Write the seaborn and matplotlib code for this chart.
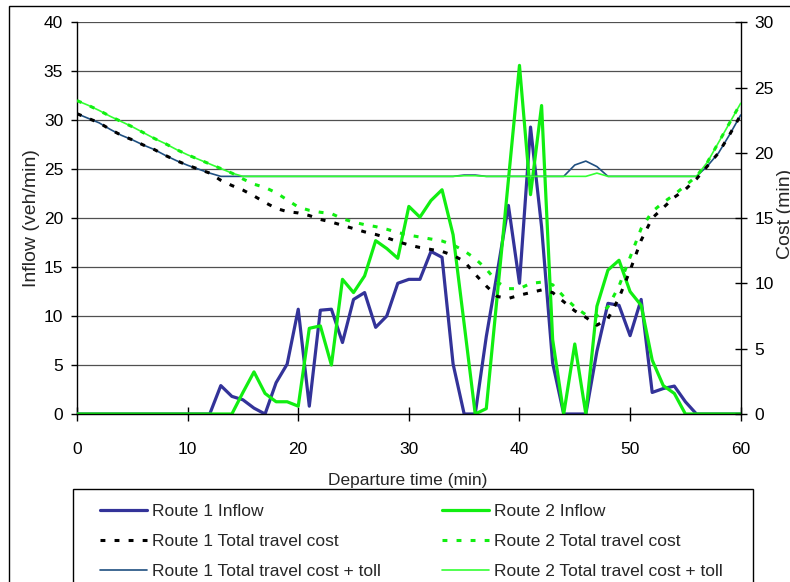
import numpy as np
import pandas as pd
import matplotlib
matplotlib.use("Agg")
import matplotlib.pyplot as plt
from matplotlib.lines import Line2D
from matplotlib.patches import Rectangle
import seaborn as sns

# ---------------- data ----------------
minutes = list(range(0, 61))

route1_inflow = [0, 0, 0, 0, 0, 0, 0, 0, 0, 0,
                 0, 0, 0, 2.9, 1.8, 1.45, 0.6, 0, 3.2, 5.1,
                 10.7, 0.8, 10.6, 10.7, 7.3, 11.7, 12.4, 8.85, 10.0, 13.35,
                 13.75, 13.75, 16.6, 16.0, 5.1, 0, 0, 7.9, 14.5, 21.3,
                 13.35, 29.3, 19.1, 5.2, 0, 0, 0, 6.4, 11.3, 11.1,
                 8.0, 11.7, 2.2, 2.6, 2.85, 1.25, 0, 0, 0, 0, 0]

route2_inflow = [0, 0, 0, 0, 0, 0, 0, 0, 0, 0,
                 0, 0, 0, 0, 0, 2.2, 4.3, 2.1, 1.25, 1.25,
                 0.8, 8.75, 9.0, 5.0, 13.75, 12.4, 14.1, 17.7, 16.9, 15.9,
                 21.2, 20.1, 21.8, 22.9, 18.3, 9.2, 0, 0.55, 12.2, 23.9,
                 35.6, 22.4, 31.5, 7.6, 0, 7.15, 0, 11.0, 14.7, 15.7,
                 12.5, 11.1, 5.5, 2.9, 2.1, 0, 0, 0, 0, 0, 0]

route1_cost = [23.0, 22.65, 22.3, 21.8, 21.35, 21.0, 20.6, 20.25, 19.8, 19.4,
               19.05, 18.75, 18.45, 17.9, 17.5, 17.15, 16.7, 16.2, 15.75, 15.5,
               15.4, 15.2, 14.9, 14.7, 14.45, 14.2, 13.95, 13.75, 13.5, 13.2,
               12.95, 12.75, 12.6, 12.45, 12.15, 11.7, 10.7, 9.8, 9.0, 8.85,
               9.1, 9.3, 9.5, 9.3, 8.6, 7.9, 7.4, 6.8, 7.3, 8.9,
               11.0, 13.3, 15.0, 15.8, 16.6, 17.2, 18.0, 19.0, 20.0, 21.4, 22.9]

route2_cost = [24.0, 23.65, 23.25, 22.8, 22.4, 22.0, 21.55, 21.1, 20.7, 20.25,
               19.85, 19.5, 19.15, 18.8, 18.45, 18.0, 17.6, 17.35, 16.95, 16.4,
               15.85, 15.6, 15.45, 15.35, 14.95, 14.7, 14.5, 14.35, 14.15, 13.9,
               13.7, 13.55, 13.4, 13.25, 12.95, 12.5, 11.9, 11.1, 10.1, 9.6,
               9.6, 10.0, 10.1, 9.9, 9.0, 8.2, 7.6, 7.5, 8.2, 9.8,
               12.0, 14.2, 15.5, 16.2, 16.8, 17.5, 18.2, 19.3, 20.8, 22.3, 23.8]

route1_cost_toll = [23.0, 22.65, 22.3, 21.8, 21.35, 21.0, 20.6, 20.25, 19.8, 19.4,
                    19.05, 18.75, 18.45, 18.2, 18.2, 18.2, 18.2, 18.2, 18.2, 18.2,
                    18.2, 18.2, 18.2, 18.2, 18.2, 18.2, 18.2, 18.2, 18.2, 18.2,
                    18.2, 18.2, 18.2, 18.2, 18.2, 18.3, 18.3, 18.2, 18.2, 18.2,
                    18.2, 18.2, 18.2, 18.2, 18.2, 19.07, 19.37, 18.95, 18.2, 18.2,
                    18.2, 18.2, 18.2, 18.2, 18.2, 18.2, 18.2, 19.0, 20.0, 21.4, 22.9]

route2_cost_toll = [24.0, 23.65, 23.25, 22.8, 22.4, 22.0, 21.55, 21.1, 20.7, 20.25,
                    19.85, 19.5, 19.15, 18.8, 18.45, 18.2, 18.2, 18.2, 18.2, 18.2,
                    18.2, 18.2, 18.2, 18.2, 18.2, 18.2, 18.2, 18.2, 18.2, 18.2,
                    18.2, 18.2, 18.2, 18.2, 18.2, 18.25, 18.25, 18.2, 18.2, 18.2,
                    18.2, 18.2, 18.2, 18.2, 18.2, 18.2, 18.2, 18.45, 18.2, 18.2,
                    18.2, 18.2, 18.2, 18.2, 18.2, 18.2, 18.2, 19.3, 20.8, 22.3, 23.8]

x_ticks = [0, 10, 20, 30, 40, 50, 60]
left_ticks = [0, 5, 10, 15, 20, 25, 30, 35, 40]
right_ticks = [0, 5, 10, 15, 20, 25, 30]

labels = ["Route 1 Inflow", "Route 1 Total travel cost", "Route 1 Total travel cost + toll",
          "Route 2 Inflow", "Route 2 Total travel cost", "Route 2 Total travel cost + toll"]

# ---------------- style ----------------
sns.set_style("white")
plt.rcParams["font.family"] = ["Liberation Sans", "DejaVu Sans"]
FS = 12.5

W, H = 790, 582
fig = plt.figure(figsize=(W / 100, H / 100), dpi=100)

def fx(px):
    return px / W

def fy(py):
    return 1 - py / H

# outer chart border
fig.patches.append(Rectangle((fx(9), fy(620)), fx(900), fy(6) - fy(620),
                             transform=fig.transFigure, fill=False,
                             edgecolor="black", linewidth=1.0))

left, right, top, bottom = 77, 740.7, 22.3, 414
ax = fig.add_axes([fx(left), fy(bottom), fx(right - left), fy(top) - fy(bottom)])
ax2 = ax.twinx()

BLUE = "#333399"
GREEN = "#11ee11"
TOLL_BLUE = "#1f4f80"
TOLL_GREEN = "#33ff33"
DASH = (0, (1.6, 3.0))

df = pd.DataFrame({"t": minutes, "r1": route1_inflow, "r2": route2_inflow,
                   "c1": route1_cost, "c2": route2_cost,
                   "k1": route1_cost_toll, "k2": route2_cost_toll})

sns.lineplot(data=df, x="t", y="r1", ax=ax, color=BLUE, linewidth=2.3, zorder=3)
sns.lineplot(data=df, x="t", y="r2", ax=ax, color=GREEN, linewidth=2.3, zorder=3)

sns.lineplot(data=df, x="t", y="k1", ax=ax2, color=TOLL_BLUE, linewidth=1.2, zorder=3)
sns.lineplot(data=df, x="t", y="k2", ax=ax2, color=TOLL_GREEN, linewidth=1.2, zorder=3)
sns.lineplot(data=df, x="t", y="c1", ax=ax2, color="black", linewidth=2.2,
             linestyle=DASH, zorder=4)
sns.lineplot(data=df, x="t", y="c2", ax=ax2, color=GREEN, linewidth=2.2,
             linestyle=DASH, zorder=4)

ax.set_xlim(0, 60)
ax.set_ylim(0, 40)
ax2.set_ylim(0, 30)
ax.set_xticks(x_ticks)
ax.set_yticks(left_ticks)
ax2.set_yticks(right_ticks)
ax.set_xlabel("")
ax.set_ylabel("")
ax2.set_ylabel("")

for a in (ax, ax2):
    for s in a.spines.values():
        s.set_visible(False)
ax.spines["left"].set_visible(True)
ax.spines["bottom"].set_visible(True)
ax2.spines["right"].set_visible(True)
for s in (ax.spines["left"], ax.spines["bottom"], ax2.spines["right"]):
    s.set_color("black")
    s.set_linewidth(1.0)
ax.spines["bottom"].set_zorder(5)

ax.yaxis.grid(True, color="#505050", linewidth=0.9)
ax.xaxis.grid(False)
ax2.grid(False)
ax.set_axisbelow(True)

ax.tick_params(axis="y", which="both", left=True, direction="out", length=4.5,
               width=1.0, pad=5.5, labelsize=FS, colors="black")
ax.tick_params(axis="x", which="both", bottom=True, direction="inout", length=10,
               width=1.0, pad=15, labelsize=FS, colors="black")
ax2.tick_params(axis="y", which="both", right=True, direction="inout", length=9,
                width=1.0, pad=5.5, labelsize=FS, colors="black")

ax.patch.set_alpha(0)
ax2.patch.set_alpha(0)

# axis titles
fig.text(fx(31), fy(218), "Inflow (veh/min)", rotation=90, ha="center", va="center",
         fontsize=14)
fig.text(fx(785), fy(214), "Cost (min)", rotation=90, ha="center", va="center",
         fontsize=14)
fig.text(fx(408), fy(481), "Departure time (min)", ha="center", va="center",
         fontsize=FS)

# legend
handles = [
    Line2D([], [], color=BLUE, linewidth=2.3),
    Line2D([], [], color="black", linewidth=2.2, linestyle=DASH),
    Line2D([], [], color=TOLL_BLUE, linewidth=1.2),
    Line2D([], [], color=GREEN, linewidth=2.3),
    Line2D([], [], color=GREEN, linewidth=2.2, linestyle=DASH),
    Line2D([], [], color=TOLL_GREEN, linewidth=1.2),
]
fig.patches.append(Rectangle((fx(73), fy(640)), fx(753 - 73), fy(489) - fy(640),
                             transform=fig.transFigure, fill=False,
                             edgecolor="black", linewidth=1.0))
fig.legend(handles, labels, loc="upper left", bbox_to_anchor=(fx(100), fy(504)),
           ncol=2, frameon=False, fontsize=FS, handlelength=2.7, handletextpad=0.3,
           columnspacing=3.5, labelspacing=0.85, borderpad=0, borderaxespad=0)

fig.savefig("out.png", dpi=100)
